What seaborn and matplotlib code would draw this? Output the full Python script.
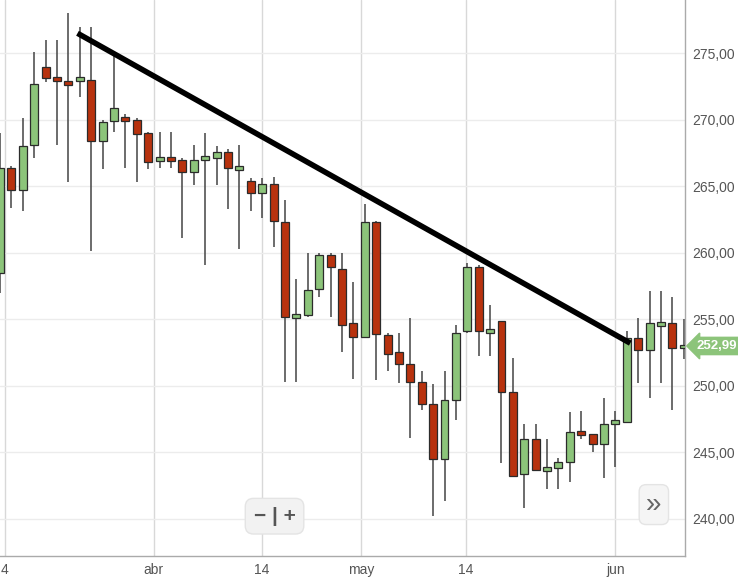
import numpy as np
import pandas as pd
import matplotlib
matplotlib.use("Agg")
import matplotlib.pyplot as plt
import seaborn as sns

# datos OHLC (una vela por sesion)
opens = [258.5, 266.4, 264.7, 268.1, 274.0, 273.1, 272.8, 272.9, 273.0, 268.4,
         269.9, 270.2, 270.0, 269.0, 266.9, 267.1, 267.0, 266.1, 267.0, 267.1,
         267.6, 266.2, 265.4, 264.5, 265.2, 262.3, 255.1, 255.3, 257.3, 259.8,
         258.8, 254.7, 253.7, 262.3, 253.8, 252.5, 251.6, 250.3, 248.6, 244.5,
         248.9, 254.1, 258.9, 254.0, 254.9, 249.5, 243.4, 246.0, 243.6, 243.8,
         244.3, 246.5, 246.4, 245.6, 247.1, 247.3, 253.6, 252.7, 254.5, 254.7, 252.8]
highs = [269.0, 266.5, 270.1, 275.1, 276.0, 276.0, 278.0, 277.0, 277.0, 270.0,
         274.8, 270.4, 270.1, 269.1, 269.1, 269.1, 267.1, 268.1, 269.0, 268.0,
         267.8, 268.1, 265.6, 265.6, 265.7, 264.0, 258.0, 260.0, 260.0, 260.0,
         260.0, 257.8, 263.7, 262.4, 254.0, 254.0, 255.1, 251.1, 250.1, 251.1,
         254.6, 259.2, 259.1, 256.1, 254.9, 252.1, 247.1, 247.1, 246.0, 244.6,
         248.0, 248.1, 246.4, 249.1, 248.1, 254.1, 255.1, 257.1, 257.1, 256.7, 255.0]
lows = [257.0, 263.4, 263.1, 267.1, 272.8, 268.1, 265.3, 271.7, 260.1, 266.3,
        269.1, 266.4, 265.3, 266.3, 266.4, 266.4, 261.1, 265.1, 259.1, 265.1,
        263.3, 260.3, 263.1, 262.6, 260.4, 250.3, 250.3, 255.2, 256.7, 255.2,
        252.5, 250.5, 253.6, 250.4, 251.1, 250.2, 246.1, 248.2, 240.2, 241.3,
        247.4, 254.0, 252.2, 252.2, 244.2, 243.2, 240.8, 243.7, 242.2, 242.2,
        242.8, 246.0, 245.0, 243.1, 243.9, 247.2, 250.2, 249.1, 250.2, 248.2, 252.0]
closes = [266.4, 264.7, 268.0, 272.7, 273.1, 272.9, 272.6, 273.1, 268.4, 269.8,
          270.9, 269.9, 268.9, 266.8, 267.1, 266.9, 266.1, 267.0, 267.2, 267.6,
          266.4, 266.4, 264.5, 265.2, 262.4, 255.2, 255.3, 257.2, 259.8, 258.9,
          254.6, 253.7, 262.3, 253.9, 252.4, 251.6, 250.3, 248.6, 244.5, 248.9,
          254.0, 258.9, 254.1, 254.2, 249.5, 243.2, 246.0, 243.7, 243.8, 244.3,
          246.5, 246.3, 245.6, 247.1, 247.3, 253.6, 252.7, 254.7, 254.7, 252.8, 252.99]

# etiquetas del eje x (posicion en indice de sesion)
tick_pos = [0.4, 13.5, 23.0, 31.7, 40.9, 54.0]
tick_labels = ["4", "abr", "14", "may", "14", "jun"]
y_ticks = [240, 245, 250, 255, 260, 265, 270, 275]

# linea de tendencia (indice, precio)
trend_x = [6.8, 55.3]
trend_y = [276.5, 253.2]
last_price = 252.99

df = pd.DataFrame({"open": opens, "high": highs, "low": lows, "close": closes})
df["idx"] = np.arange(len(df))
df["up"] = df["close"] >= df["open"]

sns.set_style("whitegrid")
plt.rcParams["font.family"] = ["Helvetica", "Liberation Sans", "DejaVu Sans"]

fig = plt.figure(figsize=(7.38, 5.80), dpi=100)
ax = fig.add_axes([0, 24 / 580, 685 / 738, 556 / 580])

GREEN = "#8cc47a"
RED = "#b8320e"
EDGE = "#2b2b2b"

ax.vlines(df["idx"], df["low"], df["high"], color="#444444", lw=1.1, zorder=2)
bottom = df[["open", "close"]].min(axis=1)
height = (df["close"] - df["open"]).abs().clip(lower=0.3)
colors = [GREEN if u else RED for u in df["up"]]
ax.bar(df["idx"], height, bottom=bottom, width=0.7, color=colors,
       edgecolor=EDGE, linewidth=0.9, zorder=3)

sns.lineplot(x=trend_x, y=trend_y, ax=ax, color="black", lw=4,
             solid_capstyle="butt", zorder=4)

ax.set_xlim(0, 60.1)
ax.set_ylim(237.2, 279.0)
ax.set_xticks(tick_pos)
ax.set_xticklabels(tick_labels)
ax.set_yticks(y_ticks)
ax.set_yticklabels([f"{v:.2f}".replace(".", ",") for v in y_ticks])
ax.yaxis.tick_right()
ax.tick_params(axis="both", colors="#555555", labelsize=10, length=0, pad=5)
ax.grid(axis="y", color="#ececec", lw=1)
ax.grid(axis="x", color="#d8d8d8", lw=1)
for s in ["top", "left"]:
    ax.spines[s].set_visible(False)
for s in ["right", "bottom"]:
    ax.spines[s].set_color("#aaaaaa")
    ax.spines[s].set_linewidth(1)

# etiqueta del ultimo precio
ax.annotate(f"{last_price:.2f}".replace(".", ","), xy=(1.0, last_price),
            xycoords=("axes fraction", "data"), xytext=(8, 0),
            textcoords="offset points", va="center", ha="left",
            color="white", fontsize=9.5, fontweight="bold",
            bbox=dict(boxstyle="larrow,pad=0.2", fc=GREEN, ec=GREEN))

# botones de zoom y desplazamiento
fig.text(0.372, 0.11, "\u2212 | +", fontsize=15, fontweight="bold", color="#555555",
         ha="center", va="center",
         bbox=dict(boxstyle="round,pad=0.4", fc="#f2f2f2", ec="#e4e4e4"))
fig.text(0.886, 0.13, "\u00bb", fontsize=20, color="#666666", ha="center", va="center",
         bbox=dict(boxstyle="round,pad=0.25", fc="#f5f5f5", ec="#e4e4e4"))

fig.savefig("out.png", dpi=100)
